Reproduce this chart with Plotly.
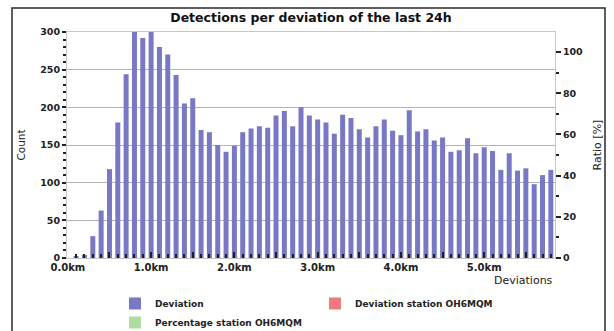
import plotly.graph_objects as go

# Deviation bins in km (0.1 km steps) and detection counts per bin
deviation_km = [round(i * 0.1, 1) for i in range(59)]
counts = [0, 2, 4, 29, 63, 118, 180, 244, 300, 292,
          300, 280, 270, 243, 205, 212, 170, 167, 150, 141,
          149, 167, 172, 175, 173, 189, 195, 175, 200, 189,
          184, 180, 165, 190, 186, 171, 160, 175, 184, 169,
          163, 196, 168, 171, 156, 160, 141, 143, 159, 139,
          147, 142, 117, 139, 116, 119, 98, 110, 117]

# Station-specific series (nothing recorded for the station in this window)
station_km = [0.0]
station_counts = [0]
station_ratio = [0]

x_tick_vals = [0.0, 0.5, 1.0, 1.5, 2.0, 2.5, 3.0, 3.5, 4.0, 4.5, 5.0, 5.5]
x_tick_text = ["0.0km", "", "1.0km", "", "2.0km", "", "3.0km", "", "4.0km", "", "5.0km", ""]

FONT = "DejaVu Sans"
TXT = "#222222"

fig = go.Figure()
fig.add_trace(go.Bar(x=deviation_km, y=counts, name="Deviation",
                     marker=dict(color="#7878c4", line=dict(width=0))))
fig.add_trace(go.Bar(x=station_km, y=station_counts, name="Deviation station OH6MQM",
                     marker=dict(color="#f07a82", line=dict(width=0))))
fig.add_trace(go.Bar(x=station_km, y=station_ratio, name="Percentage station OH6MQM",
                     yaxis="y2", marker=dict(color="#b0dca0", line=dict(width=0))))

# plot area: x 67..555, y 32..258 px
L, R, T, B = 67, 59, 32, 73
PW, PH = 614 - L - R, 331 - T - B

def px(x):
    return (x - L) / PW

def py(y):
    return (331 - B - y) / PH

fig.update_layout(
    width=614, height=331,
    margin=dict(l=L, r=R, t=T, b=B, autoexpand=False),
    paper_bgcolor="white", plot_bgcolor="white",
    font=dict(family=FONT, size=10, color=TXT),
    barmode="overlay", bargap=0.4,
    title=dict(text="Detections per deviation of the last 24h",
               font=dict(family=FONT, size=12.5, color="#111111", weight="bold"),
               x=0.5, xref="paper", xanchor="center",
               y=1 - 18 / 331, yref="container", yanchor="middle"),
    xaxis=dict(range=[-0.01, 5.85], tickmode="array", tickvals=x_tick_vals, ticktext=x_tick_text,
               ticks="inside", ticklen=6, tickwidth=1.5, tickcolor="#222",
               minor=dict(dtick=0.1, tick0=0, ticks="inside", ticklen=4, tickwidth=1.5, tickcolor="#222"),
               showgrid=False, zeroline=False,
               showline=True, linecolor="#c8c8c8", linewidth=1, mirror=True,
               tickfont=dict(family=FONT, size=10, color=TXT, weight="bold")),
    yaxis=dict(range=[0, 300], dtick=50, ticks="outside", ticklen=4, tickwidth=1.5, tickcolor="#222",
               minor=dict(dtick=10, ticks="outside", ticklen=3, tickwidth=1.5, tickcolor="#222"),
               showgrid=True, gridcolor="#b4b4b4", gridwidth=1, zeroline=False,
               showline=True, linecolor="#c8c8c8", linewidth=1, mirror=True,
               tickfont=dict(family=FONT, size=9.5, color=TXT, weight="bold"),
               title=dict(text="Count", font=dict(family=FONT, size=10.5, color=TXT), standoff=12)),
    yaxis2=dict(range=[0, 109.7], dtick=20, overlaying="y", side="right",
                ticks="outside", ticklen=5, tickwidth=1.5, tickcolor="#222",
                minor=dict(dtick=10, ticks="outside", ticklen=3, tickwidth=1.5, tickcolor="#222"),
                showgrid=False, zeroline=False, showline=False,
                tickfont=dict(family=FONT, size=9.5, color=TXT, weight="bold"),
                title=dict(text="Ratio [%]", font=dict(family=FONT, size=11, color=TXT), standoff=11)),
    legend=dict(orientation="h", x=px(115), xanchor="left", y=py(289), yanchor="top",
                entrywidth=155, entrywidthmode="pixels", tracegroupgap=0,
                font=dict(family=FONT, size=9, color=TXT, weight="bold"),
                bgcolor="rgba(0,0,0,0)"),
    annotations=[dict(text="Deviations", x=1, xref="paper", xanchor="right",
                      y=py(280), yref="paper", yanchor="middle", showarrow=False,
                      font=dict(family=FONT, size=11, color=TXT))],
    shapes=[dict(type="path", xref="paper", yref="paper",
                 path=f"M {px(12)},{py(340)} L {px(12)},{py(8)} L {px(605)},{py(8)} L {px(605)},{py(340)}",
                 line=dict(color="#2a2a2a", width=1.5))],
)

fig.write_html("out.html")
